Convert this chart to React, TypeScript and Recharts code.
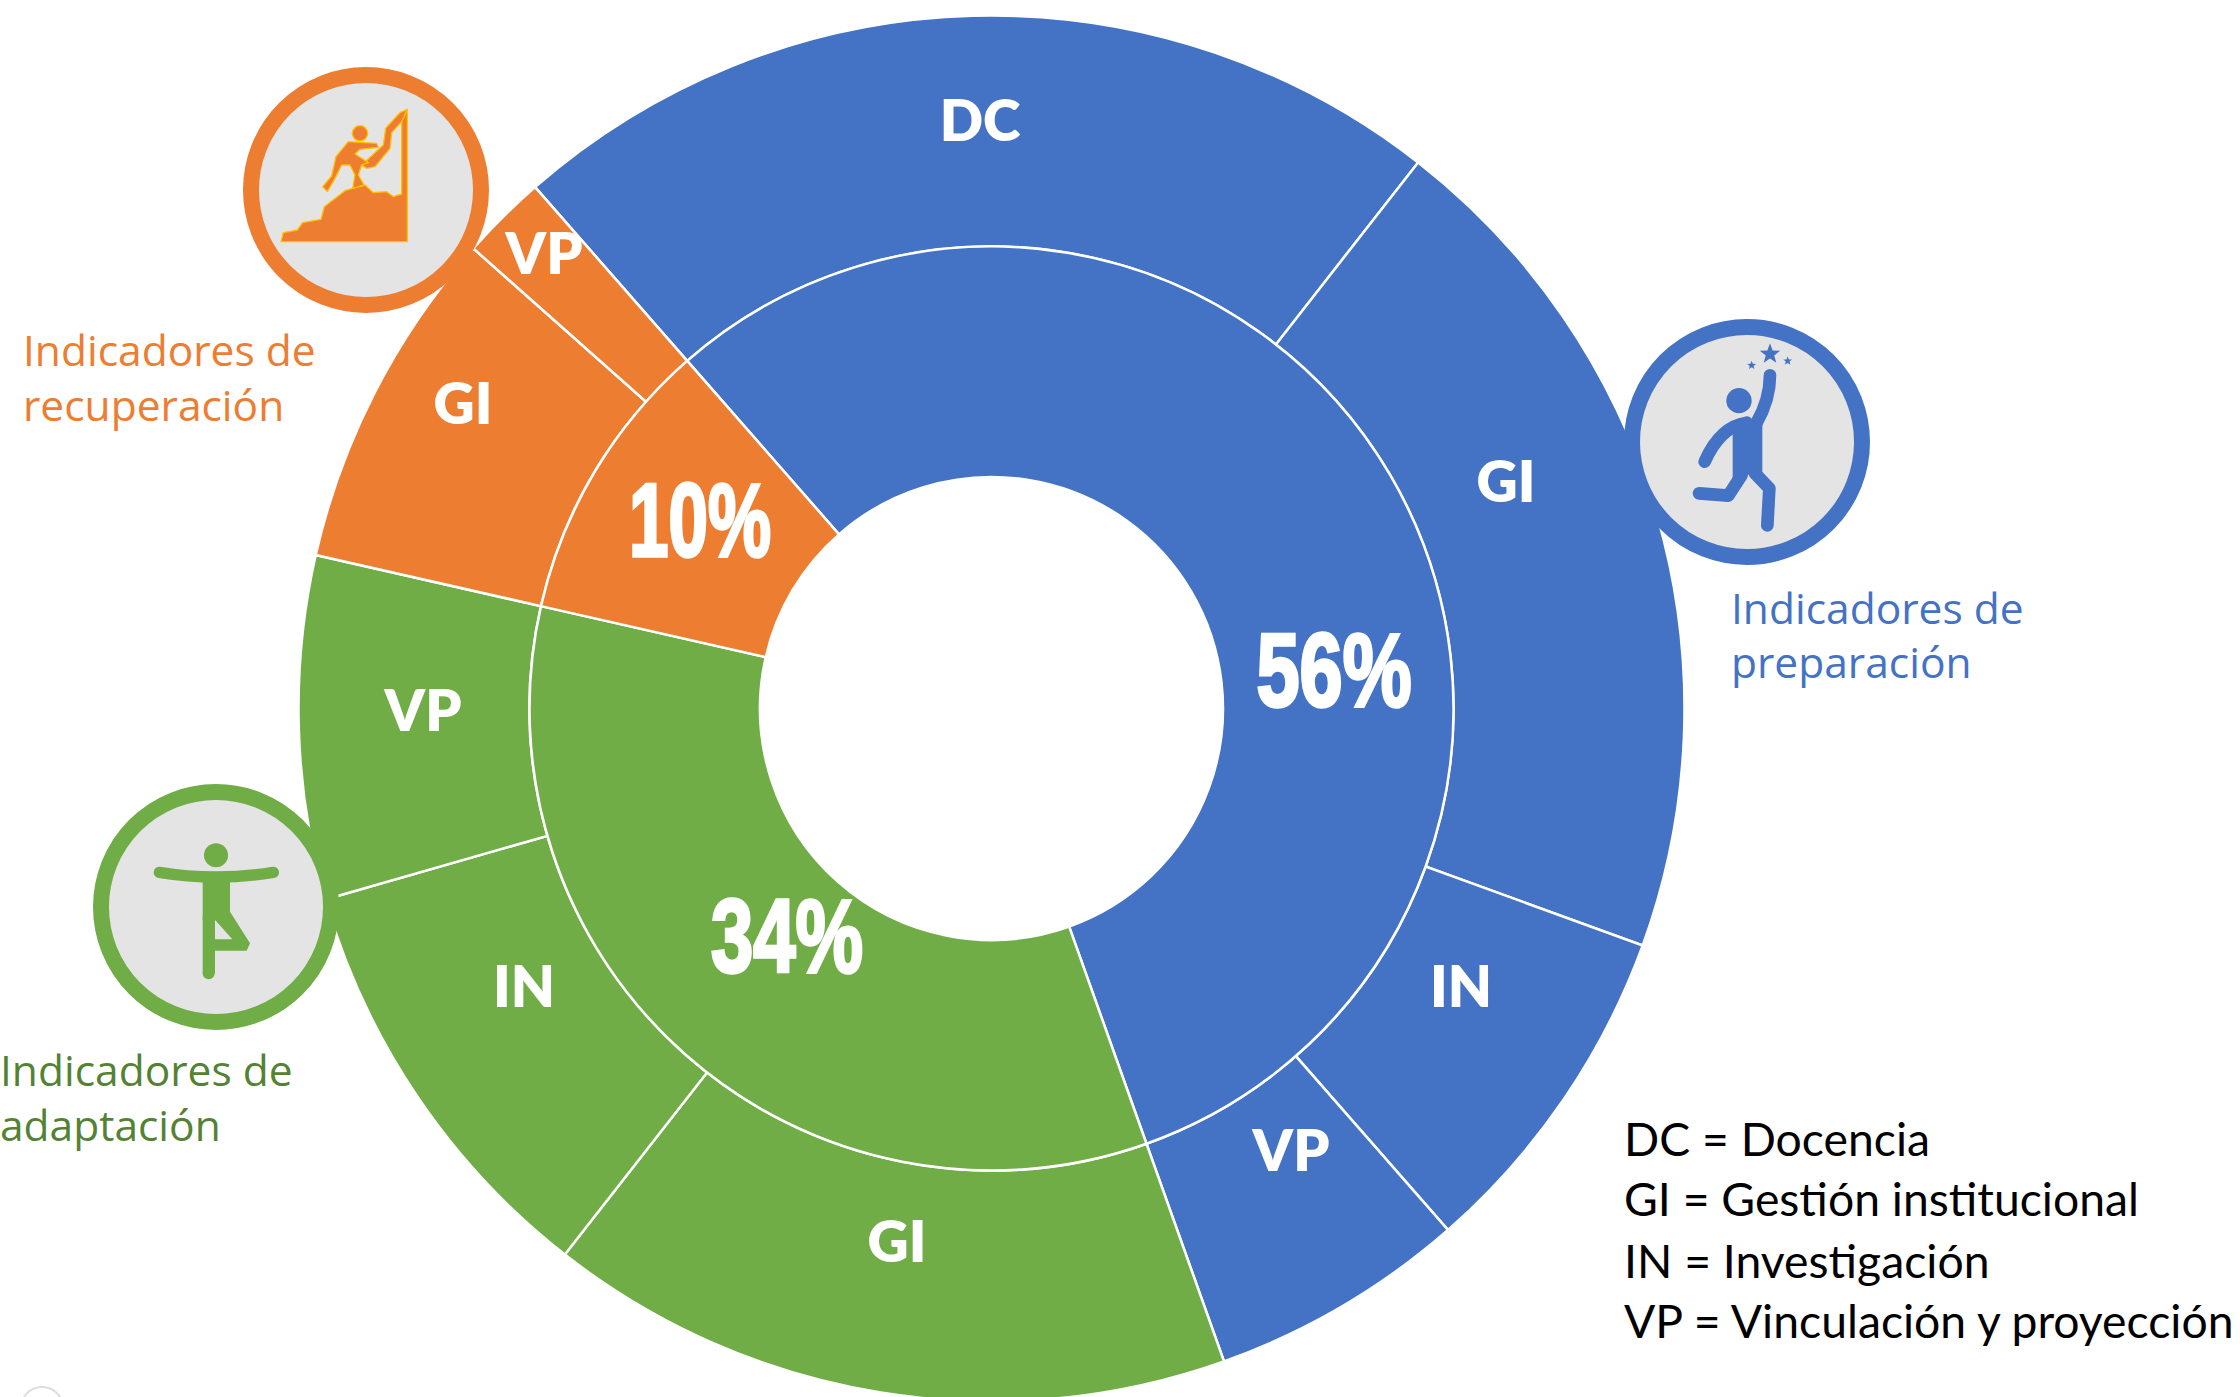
import React from "react";
import { PieChart, Pie, Cell } from "recharts";

const innerNames = ["56%", "34%", "10%"];
const innerValues = [56, 34, 10];
const outerNames = ["DC", "GI", "IN", "VP", "GI", "IN", "VP", "GI", "VP"];
const outerValues = [22, 20, 8, 6, 16, 10, 8, 8, 2];
const legendLines = ["DC = Docencia", "GI = Gestión institucional", "IN = Investigación", "VP = Vinculación y proyección"];

const BLUE = "#4472C4";
const ORANGE = "#ED7D31";
const GREEN = "#70AD47";
const innerColors = [BLUE, GREEN, ORANGE];
const outerColors = [BLUE, BLUE, BLUE, BLUE, GREEN, GREEN, GREEN, ORANGE, ORANGE];

const innerData = innerNames.map((name, i) => ({ name, value: innerValues[i] }));
const outerData = outerNames.map((name, i) => ({ name, value: outerValues[i] }));

// hand placement of the labels (page pixels)
const outerLabelAt = [[980, 119], [1506, 480], [1461, 985], [1291, 1149], [897, 1240], [524, 985], [423, 709], [463, 402], [544, 252]];
const innerLabelAt = [[1334, 706], [787, 972], [700, 556]];
const innerLabelWidth = [155, 152, 142];

const CX = 991.5;
const CY = 708.5;

const outerLabel = (p: any) => {
  const [x, y] = outerLabelAt[p.index];
  return (
    <text x={x} y={y} textAnchor="middle" dominantBaseline="central" fill="#fff"
      style={{ fontFamily: "Lato", fontWeight: 800, fontSize: 57 }}>
      {outerNames[p.index]}
    </text>
  );
};

const innerLabel = (p: any) => {
  const [x, y] = innerLabelAt[p.index];
  return (
    <text x={x} y={y} textAnchor="middle" fill="#fff" stroke="#fff" strokeWidth={3.5} textLength={innerLabelWidth[p.index]} lengthAdjust="spacingAndGlyphs"
      style={{ fontFamily: "'Liberation Sans Narrow','Liberation Sans'", fontWeight: 700, fontSize: 103 }}>
      {innerNames[p.index]}
    </text>
  );
};

const Badge = ({ cx, cy, color, ox, oy, children }: any) => (
  <g>
    <circle cx={cx} cy={cy} r={115} fill="#E4E4E4" stroke={color} strokeWidth={16} />
    <g transform={`translate(${ox} ${oy}) scale(${1 / 3})`}>{children}</g>
  </g>
);

const star = (cx: number, cy: number, r: number) => {
  const pts: string[] = [];
  for (let i = 0; i < 10; i++) {
    const a = -Math.PI / 2 + (i * Math.PI) / 5;
    const rr = i % 2 === 0 ? r : r * 0.42;
    pts.push(`${cx + rr * Math.cos(a)},${cy + rr * Math.sin(a)}`);
  }
  return pts.join(" ");
};

const Caption = ({ x, y1, y2, color, lines }: any) => (
  <text fill={color} style={{ fontFamily: "'Open Sans'", fontWeight: 400, fontSize: 42.5 }}>
    <tspan x={x} y={y1}>{lines[0]}</tspan>
    <tspan x={x} y={y2}>{lines[1]}</tspan>
  </text>
);

export default function App() {
  return (
    <div style={{ position: "absolute", left: 0, top: 0, width: 2240, height: 1397, overflow: "hidden", background: "#fff" }}>
      <div style={{ position: "absolute", left: 0, top: 0 }}>
        <PieChart width={2240} height={1397} margin={{ top: 0, right: 0, bottom: 0, left: 0 }}>
          <Pie data={outerData} dataKey="value" nameKey="name" cx={CX} cy={CY} innerRadius={462} outerRadius={693}
            startAngle={131.2} endAngle={-228.8} stroke="#fff" strokeWidth={2.5} label={outerLabel} labelLine={false} isAnimationActive={false}>
            {outerData.map((d, i) => <Cell key={i} fill={outerColors[i]} />)}
          </Pie>
          <Pie data={innerData} dataKey="value" nameKey="name" cx={CX} cy={CY} innerRadius={231.5} outerRadius={462}
            startAngle={131.2} endAngle={-228.8} stroke="#fff" strokeWidth={2.5} label={innerLabel} labelLine={false} isAnimationActive={false}>
            {innerData.map((d, i) => <Cell key={i} fill={innerColors[i]} />)}
          </Pie>
        </PieChart>
      </div>
      <svg width={2240} height={1397} style={{ position: "absolute", left: 0, top: 0, pointerEvents: "none" }}>
        <Badge cx={366} cy={190} color={ORANGE} ox={220} oy={50}>
          <g fill={ORANGE} stroke="#FFC000" strokeWidth={4} strokeLinejoin="round">
            <path d="M183,575 L190,548 L232,540 L248,518 L303,508 L313,470 L375,422 L398,415 L435,405 L460,428 L500,425 L520,440 L545,432 L545,215 L562,178 L562,575 Z" />
            <path d="M497,235 L540,188 L562,178 L545,215 L515,248 L510,295 L465,350 L440,355 L425,345 L490,285 Z" />
            <path d="M398,415 L405,375 L390,345 L365,345 L345,385 L322,425 L308,410 L335,378 L348,320 L385,275 L470,280 L475,292 L420,298 L405,312 L445,338 L425,345 L415,375 L432,405 Z" />
            <circle cx={420} cy={250} r={23} />
          </g>
        </Badge>
        <Badge cx={1747} cy={442} color={BLUE} ox={1600} oy={300}>
          <g fill={BLUE}>
            <circle cx={417} cy={302} r={38} />
            <polygon points={star(510, 162, 32)} />
            <polygon points={star(455, 196, 14)} />
            <polygon points={star(563, 183, 14)} />
            <path d="M398,405 L440,350 L487,370 L487,515 L440,525 L398,545 Z" />
          </g>
          <g fill="none" stroke={BLUE} strokeWidth={38} strokeLinecap="round" strokeLinejoin="round">
            <path d="M468,372 Q510,300 510,226" />
            <path d="M440,368 Q360,380 314,485" />
            <path d="M425,525 L385,587 L297,580" />
            <path d="M465,520 L508,565 L502,676" />
          </g>
        </Badge>
        <Badge cx={216} cy={907} color={GREEN} ox={0} oy={760}>
          <g fill={GREEN}>
            <circle cx={648} cy={286} r={36} />
            <rect x={608} y={350} width={82} height={130} />
            <rect x={608} y={470} width={37} height={170} />
            <circle cx={626} cy={640} r={18} />
            <path d="M645,480 L690,455 L750,550 L740,572 L640,572 L640,538 L697,538 L650,485 Z" />
          </g>
          <path d="M478,337 Q648,365 820,337" fill="none" stroke={GREEN} strokeWidth={34} strokeLinecap="round" />
        </Badge>
        <Caption x={23} y1={366} y2={421} color={ORANGE} lines={["Indicadores de", "recuperación"]} />
        <Caption x={1731} y1={624} y2={678} color={BLUE} lines={["Indicadores de", "preparación"]} />
        <Caption x={0} y1={1086} y2={1141} color="#548235" lines={["Indicadores de", "adaptación"]} />
        {legendLines.map((t, i) => (
          <text key={t} x={1624} y={[1156, 1216, 1278, 1338][i]} fill="#000" style={{ fontFamily: "Lato", fontSize: 46.3 }}>{t}</text>
        ))}
        <circle cx={42} cy={1408} r={21} fill="none" stroke="#dcdcdc" strokeWidth={2} />
      </svg>
    </div>
  );
}
